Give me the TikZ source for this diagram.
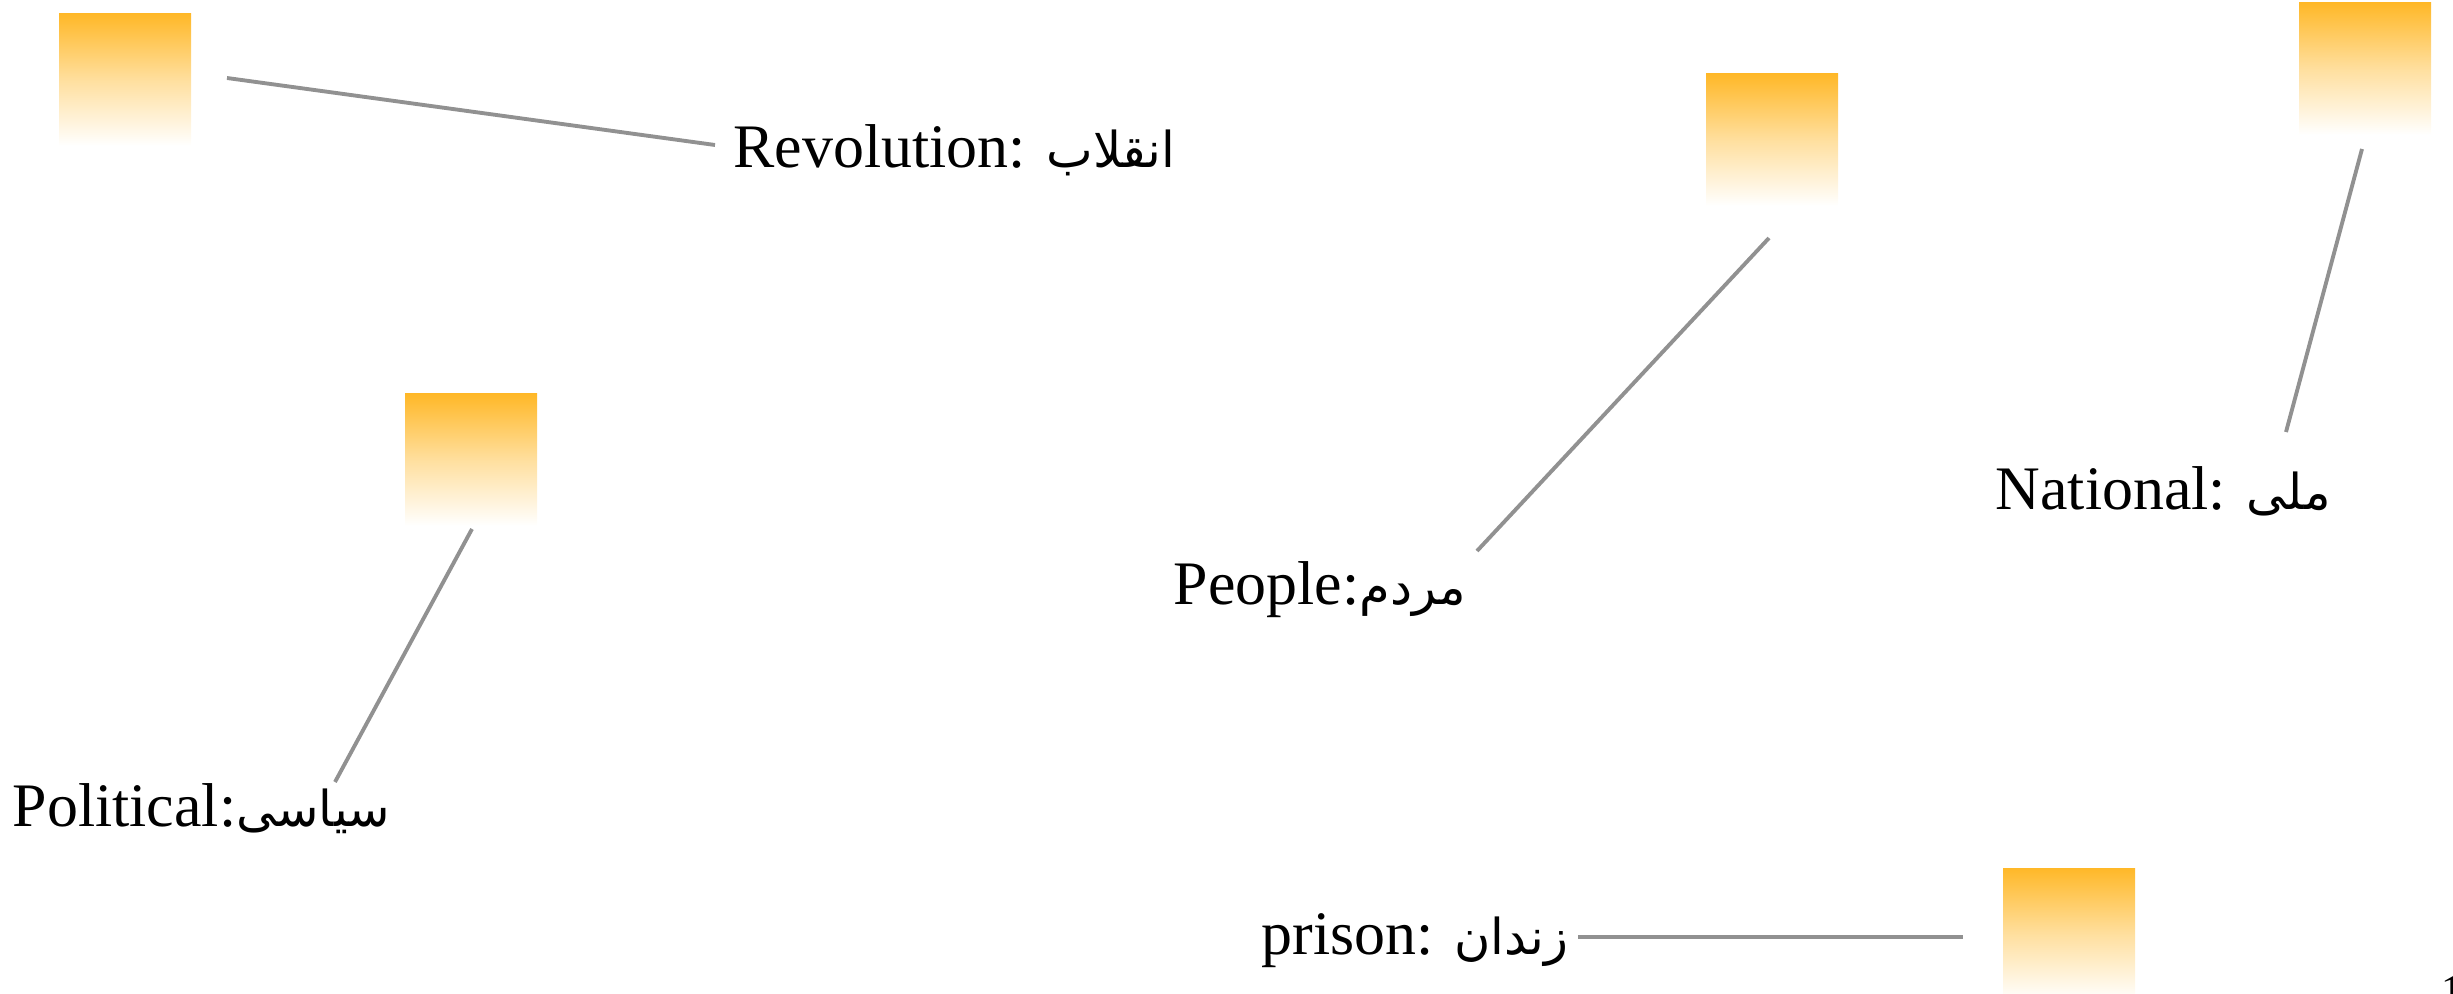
\documentclass[tikz,border=0pt]{standalone}
\usepackage{fontspec}
\setmainfont{Liberation Serif}
\newfontfamily\arabicfont[Script=Arabic,Scale=0.8]{DejaVu Sans}
\TeXXeTstate=1
\definecolor{sqorange}{RGB}{255,184,40}
\definecolor{linegray}{RGB}{145,145,145}
\tikzset{
  sq/.style={rectangle, minimum width=132*0.01cm, minimum height=132*0.01cm, inner sep=0pt,
    top color=sqorange, bottom color=white, draw=none, middle color=sqorange!45!white},
  lbl/.style={anchor=base west, inner sep=0pt, font=\fontsize{17.6pt}{21pt}\selectfont},
  conn/.style={draw=linegray, line width=1.1pt}
}
\newcommand{\ar}[1]{{\arabicfont\beginR #1\endR}}
\begin{document}
\begin{tikzpicture}[x=0.01cm,y=-0.01cm]
\useasboundingbox (0,0) rectangle (2453,994);
% squares
\node[sq] (sqA) at (125,80) {};
\node[sq] (sqB) at (1772,140) {};
\node[sq] (sqC) at (2365,69) {};
\node[sq] (sqD) at (471,460) {};
\node[sq] (sqE) at (2069,934) {};
% labels
\node[lbl] (tA) at (733,168) {Revolution: \ar{انقلاب}};
\node[lbl] (tB) at (1173,604) {People:\ar{مردم}};
\node[lbl] (tC) at (1995,509) {National: \ar{ملی}};
\node[lbl] (tD) at (12,826) {Political:\ar{سیاسی}};
\node[lbl] (tE) at (1261,954) {prison: \ar{زندان}};
\node[anchor=base west, inner sep=0pt, font=\fontsize{12pt}{14pt}\selectfont] (pg) at (2441,1004) {1};
% connector end points
\coordinate (a1) at (227,78);  \coordinate (a2) at (715,145);
\coordinate (b1) at (1769,238); \coordinate (b2) at (1477,551);
\coordinate (c1) at (2362,149); \coordinate (c2) at (2286,432);
\coordinate (d1) at (472,529);  \coordinate (d2) at (335,782);
\coordinate (e1) at (1578,937); \coordinate (e2) at (1963,937);
\draw[conn] (a1) -- (a2);
\draw[conn] (b1) -- (b2);
\draw[conn] (c1) -- (c2);
\draw[conn] (d1) -- (d2);
\draw[conn] (e1) -- (e2);
\end{tikzpicture}
\end{document}
